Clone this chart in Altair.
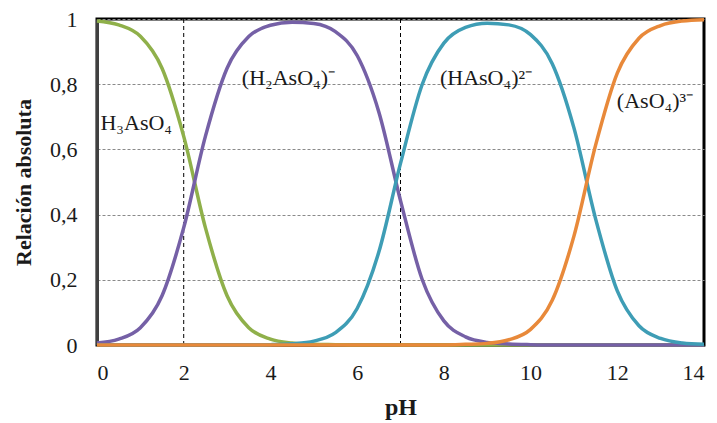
import altair as alt
import pandas as pd

ph = [0, 0.5, 1, 1.5, 2, 2.5, 3, 3.5, 4, 4.5, 5, 5.5, 6, 6.5, 7, 7.5, 8, 8.5, 9, 9.5,
      10, 10.5, 11, 11.5, 12, 12.5, 13, 13.5, 14]
h3aso4 = [0.994, 0.982, 0.947, 0.849, 0.640, 0.360, 0.151, 0.053, 0.018, 0.006, 0.002, 0.001,
          0, 0, 0, 0, 0, 0, 0, 0, 0, 0, 0, 0, 0, 0, 0, 0, 0]
h2aso4 = [0.006, 0.018, 0.053, 0.151, 0.360, 0.640, 0.849, 0.946, 0.981, 0.990, 0.986, 0.961,
          0.888, 0.715, 0.443, 0.201, 0.074, 0.025, 0.008, 0.003, 0.001,
          0, 0, 0, 0, 0, 0, 0, 0]
haso4 = [0, 0, 0, 0, 0, 0, 0, 0, 0.001, 0.004, 0.012, 0.038, 0.112, 0.285, 0.557, 0.799,
         0.926, 0.974, 0.987, 0.982, 0.952, 0.863, 0.666, 0.387, 0.166, 0.059, 0.020, 0.006, 0.002]
aso4 = [0, 0, 0, 0, 0, 0, 0, 0, 0, 0, 0, 0, 0, 0, 0, 0,
        0, 0.002, 0.005, 0.016, 0.048, 0.137, 0.334, 0.613, 0.834, 0.941, 0.980, 0.994, 0.998]

series_names = ["H3AsO4", "H2AsO4", "HAsO4", "AsO4"]
series_colors = ["#8fb04a", "#7560a6", "#3e9db5", "#e8893a"]

label_text = ["H₃AsO₄", "(H₂AsO₄)⁻", "(HAsO₄)²⁻", "(AsO₄)³⁻"]
label_x = [0.08, 3.34, 7.91, 11.99]
label_y = [0.68, 0.82, 0.82, 0.75]

ref_ph = [2, 7]

rows = []
for name, vals in zip(series_names, [h3aso4, h2aso4, haso4, aso4]):
    for p, v in zip(ph, vals):
        rows.append({"pH": p, "value": v, "species": name})
df = pd.DataFrame(rows)
labels_df = pd.DataFrame({"text": label_text, "x": label_x, "y": label_y})
ref_df = pd.DataFrame({"pH": ref_ph})

FONT = "Liberation Serif"
TXT = "#1a1a1a"

x_scale = alt.Scale(domain=[0, 14], nice=False)
y_scale = alt.Scale(domain=[0, 1], nice=False)

x_axis = alt.Axis(values=[0, 2, 4, 6, 8, 10, 12, 14], title="pH", grid=False,
                  ticks=False, labelPadding=17, titlePadding=12,
                  labelFont=FONT, labelFontSize=22, labelColor=TXT,
                  titleFont=FONT, titleFontSize=24, titleFontWeight="bold", titleColor=TXT,
                  domainColor="#000000", domainWidth=2)
y_axis = alt.Axis(values=[0, 0.2, 0.4, 0.6, 0.8, 1], title="Relación absoluta",
                  labelExpr="replace(format(datum.value, '~g'), '.', ',')",
                  grid=True, gridDash=[3, 2], gridColor="#8a8a8a", gridWidth=1,
                  ticks=False, labelPadding=20, titlePadding=14,
                  labelFont=FONT, labelFontSize=22, labelColor=TXT,
                  titleFont=FONT, titleFontSize=22, titleFontWeight="bold", titleColor=TXT,
                  domainColor="#404040", domainWidth=3)

rules = alt.Chart(ref_df).mark_rule(color="#000000", strokeDash=[4, 3], strokeWidth=1).encode(
    x=alt.X("pH:Q", scale=x_scale, axis=x_axis)
)

lines = alt.layer(*[
    alt.Chart(df[df.species == n]).mark_line(strokeWidth=3.5, interpolate="monotone", color=c).encode(
        x=alt.X("pH:Q", scale=x_scale, axis=x_axis),
        y=alt.Y("value:Q", scale=y_scale, axis=y_axis),
    )
    for n, c in zip(series_names, series_colors)
])

texts = alt.Chart(labels_df).mark_text(
    align="left", baseline="middle", font=FONT, fontSize=22, color=TXT
).encode(
    x=alt.X("x:Q", scale=x_scale, axis=x_axis),
    y=alt.Y("y:Q", scale=y_scale, axis=y_axis),
    text="text:N",
)

chart = alt.layer(rules, lines, texts).properties(
    width=607, height=326,
    autosize=alt.AutoSizeParams(type="none"),
    padding={"left": 97, "top": 19, "right": 13, "bottom": 78},
).configure(
    font=FONT
).configure_view(
    stroke="#000000", strokeWidth=3
)

chart.save("out.html", embed_options={"renderer": "svg", "actions": False})
